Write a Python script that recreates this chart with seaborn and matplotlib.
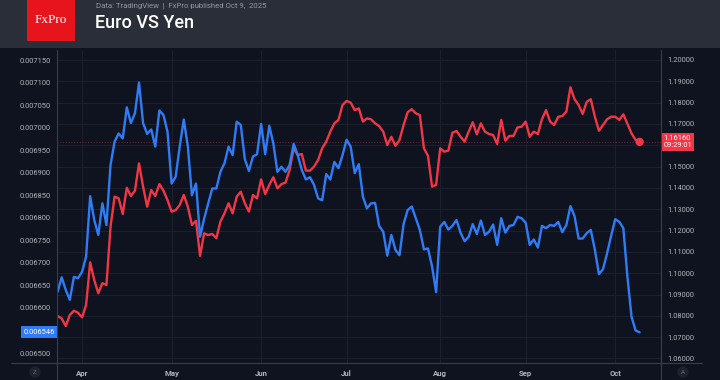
import numpy as np
import pandas as pd
import matplotlib
matplotlib.use("Agg")
import matplotlib.pyplot as plt
import matplotlib.transforms as mtransforms
from matplotlib.patches import Rectangle
from matplotlib.lines import Line2D
import seaborn as sns

# daily bars, 24 Mar 2025 - 9 Oct 2025 (business days)
dates = pd.bdate_range("2025-03-24", "2025-10-09")

# JPY priced in USD (left axis, blue)
jpy_usd = [
    0.006636, 0.006668, 0.006640, 0.006618, 0.006669, 0.006666, 0.006680, 0.006714, 0.006848, 0.006795, 0.006762, 0.006832,
    0.006784, 0.006917, 0.006969, 0.006987, 0.006976, 0.007045, 0.007010, 0.007032, 0.007100, 0.007010, 0.006986, 0.006996,
    0.006958, 0.007038, 0.007028, 0.006991, 0.006876, 0.006891, 0.006958, 0.007018, 0.006958, 0.006850, 0.006876, 0.006758,
    0.006798, 0.006832, 0.006865, 0.006865, 0.006902, 0.006921, 0.006958, 0.006939, 0.007013, 0.007006, 0.006930, 0.006904,
    0.006936, 0.006941, 0.007008, 0.006941, 0.007004, 0.006965, 0.006902, 0.006913, 0.006902, 0.006917, 0.006964, 0.006939,
    0.006906, 0.006885, 0.006890, 0.006873, 0.006843, 0.006839, 0.006897, 0.006885, 0.006924, 0.006910, 0.006939, 0.006973,
    0.006958, 0.006899, 0.006919, 0.006847, 0.006821, 0.006832, 0.006833, 0.006782, 0.006769, 0.006716, 0.006762, 0.006729,
    0.006717, 0.006786, 0.006817, 0.006825, 0.006799, 0.006773, 0.006730, 0.006732, 0.006692, 0.006635, 0.006780, 0.006791,
    0.006774, 0.006782, 0.006795, 0.006767, 0.006748, 0.006758, 0.006786, 0.006764, 0.006794, 0.006762, 0.006769, 0.006785,
    0.006740, 0.006799, 0.006767, 0.006782, 0.006784, 0.006802, 0.006799, 0.006789, 0.006740, 0.006752, 0.006734, 0.006782,
    0.006777, 0.006784, 0.006782, 0.006791, 0.006768, 0.006784, 0.006826, 0.006804, 0.006754, 0.006754, 0.006766, 0.006773,
    0.006729, 0.006675, 0.006686, 0.006721, 0.006760, 0.006797, 0.006791, 0.006777, 0.006669, 0.006581, 0.006550, 0.006546,
]

# EUR/USD (right axis, red)
eur_usd = [
    1.0799, 1.0788, 1.0752, 1.0804, 1.0824, 1.0815, 1.0793, 1.0851, 1.1051, 1.0968, 1.0906, 1.0953,
    1.0945, 1.1218, 1.1359, 1.1351, 1.1278, 1.1401, 1.1362, 1.1387, 1.1515, 1.1406, 1.1312, 1.1390,
    1.1362, 1.1418, 1.1387, 1.1343, 1.1289, 1.1296, 1.1320, 1.1367, 1.1312, 1.1226, 1.1246, 1.1081,
    1.1187, 1.1179, 1.1184, 1.1164, 1.1242, 1.1281, 1.1328, 1.1281, 1.1359, 1.1382, 1.1328, 1.1289,
    1.1367, 1.1351, 1.1440, 1.1371, 1.1414, 1.1450, 1.1398, 1.1418, 1.1425, 1.1484, 1.1586, 1.1554,
    1.1559, 1.1481, 1.1481, 1.1500, 1.1531, 1.1586, 1.1617, 1.1664, 1.1703, 1.1719, 1.1789, 1.1808,
    1.1800, 1.1765, 1.1773, 1.1711, 1.1726, 1.1722, 1.1703, 1.1690, 1.1664, 1.1601, 1.1640, 1.1597,
    1.1625, 1.1695, 1.1755, 1.1769, 1.1750, 1.1742, 1.1586, 1.1550, 1.1406, 1.1414, 1.1586, 1.1570,
    1.1575, 1.1659, 1.1667, 1.1640, 1.1617, 1.1664, 1.1708, 1.1651, 1.1703, 1.1664, 1.1653, 1.1648,
    1.1606, 1.1719, 1.1622, 1.1644, 1.1644, 1.1684, 1.1687, 1.1711, 1.1640, 1.1664, 1.1653, 1.1722,
    1.1765, 1.1711, 1.1695, 1.1734, 1.1737, 1.1758, 1.1872, 1.1816, 1.1789, 1.1747, 1.1804, 1.1816,
    1.1734, 1.1668, 1.1695, 1.1722, 1.1734, 1.1734, 1.1719, 1.1745, 1.1700, 1.1656, 1.1625, 1.1616,
]

left_ticks = [0.00650, 0.00660, 0.00665, 0.00670, 0.00675, 0.00680, 0.00685, 0.00690,
              0.00695, 0.00700, 0.00705, 0.00710, 0.00715]
right_ticks = [1.06, 1.07, 1.08, 1.09, 1.10, 1.11, 1.12, 1.13, 1.14, 1.15, 1.17, 1.18, 1.19, 1.20]
right_grid = [1.06, 1.07, 1.08, 1.09, 1.10, 1.11, 1.12, 1.13, 1.14, 1.15, 1.16, 1.17, 1.18, 1.19, 1.20]
last_time = "09:29:01"

BG = "#0e131f"
HEADER = "#2a2e39"
GRID = "#1b202c"
AXLINE = "#3a3e49"
TXT = "#b2b5be"
BLUE = "#2f7cf6"
RED = "#f23645"

sns.set_theme(style="dark")
plt.rcParams["font.family"] = ["Roboto", "DejaVu Sans"]

df = pd.DataFrame({"date": dates, "jpy": jpy_usd, "eur": eur_usd})
df["pos"] = np.arange(len(df))

W, H = 720, 380
fig = plt.figure(figsize=(W / 100, H / 100), dpi=100, facecolor=BG)

ax2 = fig.add_axes([57 / W, 17 / H, 604 / W, 313 / H])
ax = ax2.twinx()
ax.set_zorder(ax2.get_zorder() + 1)
ax.patch.set_visible(False)
ax2.set_facecolor(BG)

# blue series uses the left scale, red the right one
ax.yaxis.tick_left()
ax.yaxis.set_label_position("left")
ax2.yaxis.tick_right()
ax2.yaxis.set_label_position("right")

sns.lineplot(data=df, x="pos", y="eur", ax=ax2, color=RED, lw=1.7)
sns.lineplot(data=df, x="pos", y="jpy", ax=ax, color=BLUE, lw=1.7)

ax2.axhline(eur_usd[-1], color=RED, lw=0.8, ls=(0, (1, 1.5)), alpha=0.4)
sns.scatterplot(x=[df["pos"].iloc[-1]], y=[eur_usd[-1]], ax=ax2, color=RED, s=36,
                edgecolor="none", zorder=5)

ax.set_xlim(-0.15, 148.25)
ax.set_ylim(0.0064779, 0.0071722)
ax2.set_ylim(1.05788, 1.20469)

# month ticks at first bar of each month
first = df.groupby(df["date"].dt.to_period("M"))["pos"].min()
first = first[first.index.month != 3]
month_labels = [p.strftime("%b") for p in first.index]

ax.set_yticks(left_ticks)
ax.set_yticklabels([f"{v:.6f}" for v in left_ticks])
ax2.set_yticks(right_ticks)
ax2.set_yticklabels([f"{v:.5f}" for v in right_ticks])

ax2.grid(False)
ax.grid(False)
for v in right_grid:
    ax2.axhline(v, color=GRID, lw=0.8, zorder=0)
for p in first.values:
    ax2.axvline(p, color=GRID, lw=0.8, zorder=0)

# x labels (shared x axis, so set them once after the lines)
ax2.set_xticks(first.values)
ax2.set_xticklabels(month_labels)
ax.xaxis.set_visible(False)

for a in (ax, ax2):
    for s in a.spines.values():
        s.set_visible(False)
    a.set_ylabel("")
ax2.set_xlabel("")
ax.tick_params(axis="y", length=0, pad=4.5, labelsize=5.4, labelcolor=TXT)
ax2.tick_params(axis="y", length=0, pad=4.5, labelsize=5.4, labelcolor=TXT)
ax2.tick_params(axis="x", length=0, pad=5, labelsize=5.6, labelcolor=TXT)
for t in ax2.get_xticklabels():
    t.set_fontweight("bold")

# last value badges
left_tr = mtransforms.blended_transform_factory(ax.transAxes, ax.transData)
ax.text(-0.004, jpy_usd[-1], f"{jpy_usd[-1]:.6f}", transform=left_tr, ha="right", va="center",
        fontsize=5.4, color="white", bbox=dict(boxstyle="square,pad=0.35", fc=BLUE, ec="none"))
right_tr = mtransforms.blended_transform_factory(ax2.transAxes, ax2.transData)
ax2.text(1.004, eur_usd[-1], f"{eur_usd[-1]:.5f}\n{last_time}", transform=right_tr, ha="left",
         va="center", fontsize=5.4, color="white", linespacing=1.0,
         bbox=dict(boxstyle="square,pad=0.3", fc=RED, ec="none"))

# frame lines
fig.add_artist(Line2D([57 / W, 57 / W], [0, 330 / H], color=AXLINE, lw=0.8))
fig.add_artist(Line2D([661 / W, 661 / W], [0, 330 / H], color=AXLINE, lw=0.8))
fig.add_artist(Line2D([11 / W, 702 / W], [17 / H, 17 / H], color=AXLINE, lw=0.8))

# header
fig.add_artist(Rectangle((0, 332 / H), 1, 48 / H, transform=fig.transFigure, fc=HEADER, ec="none"))
fig.add_artist(Rectangle((27 / W, 339 / H), 48 / W, 41 / H, transform=fig.transFigure, fc="#e8141b", ec="none"))
fig.text(51 / W, 360 / H, "FxPro", ha="center", va="center", color="white", fontsize=9.5,
         family=["Liberation Serif", "DejaVu Serif"])
fig.text(96 / W, 374 / H, "Data: TradingView  |  FxPro published Oct 9,  2025", ha="left", va="center",
         color="#9598a1", fontsize=5.6)
fig.text(95 / W, 357 / H, "Euro VS Yen", ha="left", va="center", color="white", fontsize=13,
         fontweight="medium")

# scale buttons
for x, s in ((35, "Z"), (683, "A")):
    fig.text(x / W, 8 / H, s, ha="center", va="center", color="#6a6d78", fontsize=4.5,
             bbox=dict(boxstyle="circle,pad=0.5", fc="#1e222d", ec="none"))

fig.savefig("out.png", dpi=100, facecolor=BG)
